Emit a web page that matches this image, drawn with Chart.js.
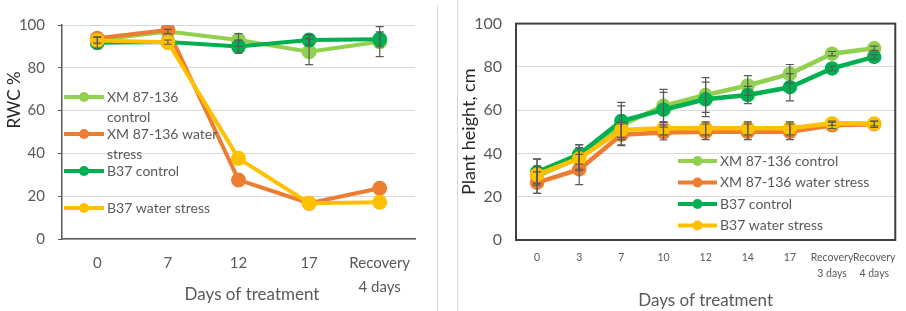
<!DOCTYPE html>
<html>
<head>
<meta charset="utf-8">
<script src="https://cdn.jsdelivr.net/npm/chart.js@4.4.0/dist/chart.umd.min.js"></script>
<style>
    body { margin: 0; background: #fff; }
    #wrap { position: relative; width: 906px; height: 311px; overflow: hidden; }
    #rwcChart { position: absolute; left: 0; top: 0; }
    #heightChart { position: absolute; left: 458px; top: 0; }
    .sep { position: absolute; width: 1px; background: #d9d9d9; }
</style>
</head>
<body>
<div id="wrap">
    <canvas id="rwcChart" width="437" height="311"></canvas>
    <div class="sep" style="left:437px; top:5px; height:306px;"></div>
    <div class="sep" style="left:457px; top:0; height:311px;"></div>
    <canvas id="heightChart" width="448" height="311"></canvas>
</div>
<script>
// Dados
const seriesNames = ['XM 87-136 control', 'XM 87-136 water stress', 'B37 control', 'B37 water stress'];
const seriesColors = ['#92d050', '#ed7d31', '#00b050', '#ffc000'];

// RWC (painel esquerdo)
const rwcDays = ['0', '7', '12', '17', ['Recovery', '4 days']];
const rwcXmControl = [93, 97, 93, 87.5, 92.2];
const rwcXmStress = [93.8, 97.7, 27.6, 16.7, 23.7];
const rwcB37Control = [91.7, 92, 89.9, 93, 93.3];
const rwcB37Stress = [92.8, 91.9, 37.7, 16.7, 17.2];
const rwcXmControlErr = [1.5, 1, 3, 6, 7];
const rwcB37ControlErr = [2.5, 1, 3, 2.5, 3.5];

// Altura da planta (painel direito)
const heightDays = ['0', '3', '7', '10', '12', '14', '17', ['Recovery', '3 days'], ['Recovery', '4 days']];
const heightXmControl = [29.5, 38, 53, 62, 67, 71.4, 76.8, 86.1, 88.6];
const heightXmStress = [26.5, 32.6, 48.6, 49.7, 50, 50, 50, 53, 53.5];
const heightB37Control = [31.4, 39.6, 55, 60.2, 65, 67, 70.6, 79.3, 84.6];
const heightB37Stress = [30.2, 37.7, 50.9, 51.6, 51.6, 51.6, 51.6, 53.9, 53.8];
const heightXmControlErr = [8, 6, 9, 7.6, 8, 4.6, 4.3, 1, 1];
const heightXmStressErr = [5, 7, 5, 3.5, 3.6, 3.6, 3.6, 1.5, 1.5];
const heightB37ControlErr = [6, 4.5, 8.6, 8, 8, 4, 6.3, 1, 1];
const heightB37StressErr = [4, 5, 3.5, 3, 3, 3, 3, 1, 1];

const yTicks = [0, 20, 40, 60, 80, 100];

Chart.defaults.font.family = 'Lato';
Chart.defaults.color = '#595959';

// barras de erro
const errorBars = {
    id: 'errorBars',
    afterDatasetsDraw(chart, args, opts) {
        const ctx = chart.ctx;
        const y = chart.scales.y;
        ctx.save();
        ctx.strokeStyle = opts.color;
        ctx.lineWidth = opts.width;
        chart.data.datasets.forEach((ds, i) => {
            if (!ds.errors) return;
            chart.getDatasetMeta(i).data.forEach((pt, j) => {
                const e = ds.errors[j];
                if (!e) return;
                const top = y.getPixelForValue(ds.data[j] + e);
                const bot = y.getPixelForValue(ds.data[j] - e);
                ctx.beginPath();
                ctx.moveTo(pt.x, top); ctx.lineTo(pt.x, bot);
                ctx.moveTo(pt.x - opts.cap, top); ctx.lineTo(pt.x + opts.cap, top);
                ctx.moveTo(pt.x - opts.cap, bot); ctx.lineTo(pt.x + opts.cap, bot);
                ctx.stroke();
            });
        });
        ctx.restore();
    }
};

function wrapText(ctx, text, maxWidth) {
    const words = text.split(' ');
    const lines = [];
    let line = '';
    words.forEach(w => {
        const test = line ? line + ' ' + w : w;
        if (line && ctx.measureText(test).width > maxWidth) {
            lines.push(line);
            line = w;
        } else {
            line = test;
        }
    });
    lines.push(line);
    return lines;
}

// legenda dentro da área do gráfico (estilo Excel)
const insideLegend = {
    id: 'insideLegend',
    afterDraw(chart, args, opts) {
        const ctx = chart.ctx;
        ctx.save();
        ctx.font = opts.fontSize + 'px Lato';
        ctx.textBaseline = 'middle';
        chart.data.datasets.forEach((ds, i) => {
            const y = opts.y + i * opts.spacing;
            ctx.strokeStyle = ds.borderColor;
            ctx.lineWidth = opts.lineWidth;
            ctx.beginPath();
            ctx.moveTo(opts.x, y);
            ctx.lineTo(opts.x + opts.lineLen, y);
            ctx.stroke();
            ctx.fillStyle = ds.borderColor;
            ctx.beginPath();
            ctx.arc(opts.x + opts.lineLen / 2, y, opts.radius, 0, Math.PI * 2);
            ctx.fill();
            ctx.fillStyle = '#595959';
            wrapText(ctx, ds.label, opts.maxWidth).forEach((t, k) => {
                ctx.fillText(t, opts.x + opts.lineLen + 3, y + k * opts.lineHeight);
            });
        });
        ctx.restore();
    }
};

// títulos de eixo com posição livre (painel esquerdo)
const freeTitles = {
    id: 'freeTitles',
    afterDraw(chart, args, opts) {
        if (!opts.items) return;
        const ctx = chart.ctx;
        opts.items.forEach(t => {
            ctx.save();
            ctx.font = t.size + 'px Lato';
            ctx.fillStyle = t.color;
            ctx.textAlign = 'center';
            ctx.textBaseline = 'middle';
            ctx.translate(t.x, t.y);
            if (t.rotate) ctx.rotate(-Math.PI / 2);
            ctx.fillText(t.text, 0, 0);
            ctx.restore();
        });
    }
};

// moldura da área de plotagem
const plotBox = {
    id: 'plotBox',
    beforeDatasetsDraw(chart, args, opts) {
        if (!opts.draw) return;
        const a = chart.chartArea;
        const ctx = chart.ctx;
        ctx.save();
        ctx.strokeStyle = '#404040';
        ctx.lineWidth = 2;
        ctx.strokeRect(a.left, a.top, a.right - a.left, a.bottom - a.top);
        ctx.restore();
    }
};

function makeDatasets(values, errors, radius, width) {
    return values.map((v, i) => ({
        label: seriesNames[i],
        data: v,
        errors: errors[i],
        borderColor: seriesColors[i],
        backgroundColor: seriesColors[i],
        pointBackgroundColor: seriesColors[i],
        pointBorderColor: seriesColors[i],
        pointRadius: radius,
        borderWidth: width,
        tension: 0,
        order: 4 - i
    }));
}

// Painel esquerdo: RWC %
const ctxRwc = document.getElementById('rwcChart').getContext('2d');
const rwcChart = new Chart(ctxRwc, {
    type: 'line',
    data: {
        labels: rwcDays,
        datasets: makeDatasets(
            [rwcXmControl, rwcXmStress, rwcB37Control, rwcB37Stress],
            [rwcXmControlErr, null, rwcB37ControlErr, null],
            5.5, 4)
    },
    options: {
        responsive: false,
        animation: false,
        layout: { padding: { left: 0, top: 25, right: 22, bottom: 0 } },
        plugins: {
            legend: { display: false },
            tooltip: { enabled: false },
            errorBars: { color: '#595959', width: 1.2, cap: 4 },
            insideLegend: { x: 64, y: 97, spacing: 37, lineLen: 40, lineWidth: 4, radius: 5, fontSize: 14, lineHeight: 20, maxWidth: 118 },
            freeTitles: { items: [
                { text: 'RWC %', x: 15, y: 100, rotate: true, size: 17, color: '#262626' },
                { text: 'Days of treatment', x: 252, y: 295, rotate: false, size: 17, color: '#595959' }
            ] },
            plotBox: { draw: false }
        },
        scales: {
            x: {
                offset: true,
                grid: { display: false, drawTicks: false },
                border: { display: true, color: '#595959', width: 1.5 },
                ticks: { font: { size: 15, lineHeight: 1.55 }, padding: 13, autoSkip: false, maxRotation: 0 },
                afterFit: (scale) => { scale.height = 72; }
            },
            y: {
                min: 0,
                max: 100,
                afterBuildTicks: (scale) => { scale.ticks = yTicks.map(v => ({ value: v })); },
                grid: { color: '#d9d9d9', tickColor: '#595959', tickLength: 4 },
                border: { display: true, color: '#595959', width: 1.5 },
                ticks: { font: { size: 15 }, padding: 13 },
                afterFit: (scale) => { scale.width = 62; }
            }
        }
    },
    plugins: [errorBars, insideLegend, freeTitles, plotBox]
});

// Painel direito: altura da planta
const ctxHeight = document.getElementById('heightChart').getContext('2d');
const heightChart = new Chart(ctxHeight, {
    type: 'line',
    data: {
        labels: heightDays,
        datasets: makeDatasets(
            [heightXmControl, heightXmStress, heightB37Control, heightB37Stress],
            [heightXmControlErr, heightXmStressErr, heightB37ControlErr, heightB37StressErr],
            5, 4.5)
    },
    options: {
        responsive: false,
        animation: false,
        layout: { padding: { left: 0, top: 17, right: 1, bottom: 0 } },
        plugins: {
            legend: { display: false },
            tooltip: { enabled: false },
            errorBars: { color: '#595959', width: 1.2, cap: 4 },
            insideLegend: { x: 220, y: 161, spacing: 21.5, lineLen: 39, lineWidth: 4, radius: 5, fontSize: 14, lineHeight: 18, maxWidth: 400 },
            plotBox: { draw: true }
        },
        scales: {
            x: {
                offset: true,
                grid: { display: false, drawTicks: false },
                border: { display: false },
                ticks: { font: { size: 10.5, lineHeight: 1.5 }, padding: 10, autoSkip: false, maxRotation: 0 },
                title: { display: true, text: 'Days of treatment', font: { size: 17 }, padding: { top: 0, bottom: 0 } },
                afterFit: (scale) => { scale.height = 71; }
            },
            y: {
                min: 0,
                max: 100,
                afterBuildTicks: (scale) => { scale.ticks = yTicks.map(v => ({ value: v })); },
                grid: { color: '#d9d9d9', drawTicks: false },
                border: { display: false },
                ticks: { font: { size: 16 }, padding: 14 },
                title: { display: true, text: 'Plant height, cm', color: '#262626', font: { size: 18 }, padding: { top: 0, bottom: 0 } },
                afterFit: (scale) => { scale.width = 58; }
            }
        }
    },
    plugins: [errorBars, insideLegend, plotBox]
});
</script>
</body>
</html>
